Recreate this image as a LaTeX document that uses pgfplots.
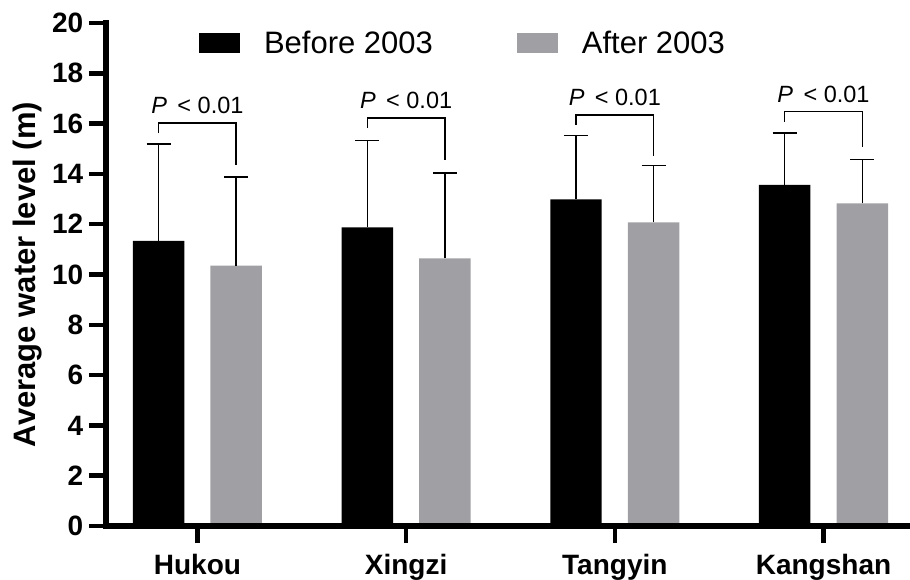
\documentclass[border=0pt]{standalone}
\usepackage{fontspec}
\setmainfont{Liberation Sans}
\usepackage{pgfplots}
\pgfplotsset{compat=1.18}
\definecolor{bargray}{RGB}{160,160,164}
\pgfplotsset{
  every axis/.append style={line width=5bp},
  every outer x axis line/.append style={line width=6bp, line cap=rect},
  every outer y axis line/.append style={line width=6bp, line cap=rect},
  every tick/.append style={line width=4.5bp, black},
  every major tick/.append style={line width=4.5bp, black},
}
\begin{document}
\begin{tikzpicture}
\begin{axis}[
  at={(0,0)}, anchor=south west,
  scale only axis, width=804bp, height=503bp,
  xmin=-0.438, xmax=3.4144, ymin=0, ymax=20,
  axis lines=left,
  axis line style={line width=6bp, line cap=rect, -},
  axis on top, clip=false,
  tick align=outside, major tick length=17bp,
  tick style={black, line width=4.5bp},
  xtick={0,1,2,3}, xticklabels={Hukou,Xingzi,Tangyin,Kangshan},
  ytick={0,2,...,20},
  /pgf/number format/assume math mode=true,
  ticklabel style={font=\bfseries\fontsize{28bp}{30bp}\selectfont},
  xticklabel style={yshift=-5bp},
  ylabel={Average water level (m)},
  ylabel style={font=\bfseries\fontsize{31bp}{33bp}\selectfont, at={(axis description cs:-0.0876,0.5)}, anchor=base},
  legend columns=2,
  legend style={at={(axis description cs:0.1157,0.9604)}, anchor=west, draw=none, fill=none,
    inner sep=0pt, outer sep=0pt, font=\fontsize{31bp}{33bp}\selectfont,
    nodes={inner sep=0pt},
    /tikz/every odd column/.append style={column sep=24bp},
    /tikz/every even column/.append style={column sep=84bp}},
  unbounded coords=jump,
]
\addplot[ybar, bar width=0.2466, bar shift=-0.186, fill=black, draw=none,
  legend image code/.code={\fill[black] (0bp,-10.35bp) rectangle (41bp,10.35bp);}]
  coordinates {(0,11.34) (1,11.87) (2,12.99) (3,13.56)};
\addlegendentry{Before 2003}
\addplot[ybar, bar width=0.2466, bar shift=0.186, fill=bargray, draw=none,
  legend image code/.code={\fill[bargray] (0bp,-10.35bp) rectangle (41bp,10.35bp);}]
  coordinates {(0,10.35) (1,10.64) (2,12.07) (3,12.83)};
\addlegendentry{After 2003}
% upper error bars: stem from bar top to mean+SD, then cap
\addplot[black, line width=1.5bp, mark=none, forget plot]
  coordinates {(-0.186,11.34) (-0.186,15.18) (nan,nan) (-0.2435,15.18) (-0.1285,15.18) (nan,nan)
               (0.814,11.87) (0.814,15.32) (nan,nan) (0.7565,15.32) (0.8715,15.32) (nan,nan)
               (1.814,12.99) (1.814,15.52) (nan,nan) (1.7565,15.52) (1.8715,15.52) (nan,nan)
               (2.814,13.56) (2.814,15.63) (nan,nan) (2.7565,15.63) (2.8715,15.63)};
\addplot[black, line width=1.5bp, mark=none, forget plot]
  coordinates {(0.186,10.35) (0.186,13.87) (nan,nan) (0.1285,13.87) (0.2435,13.87) (nan,nan)
               (1.186,10.64) (1.186,14.04) (nan,nan) (1.1285,14.04) (1.2435,14.04) (nan,nan)
               (2.186,12.07) (2.186,14.34) (nan,nan) (2.1285,14.34) (2.2435,14.34) (nan,nan)
               (3.186,12.83) (3.186,14.58) (nan,nan) (3.1285,14.58) (3.2435,14.58)};
% significance brackets
\addplot[black, line width=1.5bp, line join=miter, mark=none, forget plot]
  coordinates {(-0.186,15.61) (-0.186,16.03) (0.186,16.03) (0.186,14.36)};
\addplot[black, line width=1.5bp, line join=miter, mark=none, forget plot]
  coordinates {(0.814,15.83) (0.814,16.23) (1.186,16.23) (1.186,14.56)};
\addplot[black, line width=1.5bp, line join=miter, mark=none, forget plot]
  coordinates {(1.814,15.95) (1.814,16.35) (2.186,16.35) (2.186,14.70)};
\addplot[black, line width=1.5bp, line join=miter, mark=none, forget plot]
  coordinates {(2.814,16.07) (2.814,16.48) (3.186,16.48) (3.186,15.08)};
% heavy y axis line and its ticks, as filled strips
\addplot[fill=black, draw=none, forget plot] coordinates {(-0.4524,-0.119) (-0.4236,-0.119) (-0.4236,20.119) (-0.4524,20.119)} -- cycle;
\addplot[fill=black, draw=none, forget plot] coordinates {(-0.5195,-0.0895) (-0.438,-0.0895) (-0.438,0.0895) (-0.5195,0.0895)} -- cycle;
\addplot[fill=black, draw=none, forget plot] coordinates {(-0.5195,1.9105) (-0.438,1.9105) (-0.438,2.0895) (-0.5195,2.0895)} -- cycle;
\addplot[fill=black, draw=none, forget plot] coordinates {(-0.5195,3.9105) (-0.438,3.9105) (-0.438,4.0895) (-0.5195,4.0895)} -- cycle;
\addplot[fill=black, draw=none, forget plot] coordinates {(-0.5195,5.9105) (-0.438,5.9105) (-0.438,6.0895) (-0.5195,6.0895)} -- cycle;
\addplot[fill=black, draw=none, forget plot] coordinates {(-0.5195,7.9105) (-0.438,7.9105) (-0.438,8.0895) (-0.5195,8.0895)} -- cycle;
\addplot[fill=black, draw=none, forget plot] coordinates {(-0.5195,9.9105) (-0.438,9.9105) (-0.438,10.0895) (-0.5195,10.0895)} -- cycle;
\addplot[fill=black, draw=none, forget plot] coordinates {(-0.5195,11.9105) (-0.438,11.9105) (-0.438,12.0895) (-0.5195,12.0895)} -- cycle;
\addplot[fill=black, draw=none, forget plot] coordinates {(-0.5195,13.9105) (-0.438,13.9105) (-0.438,14.0895) (-0.5195,14.0895)} -- cycle;
\addplot[fill=black, draw=none, forget plot] coordinates {(-0.5195,15.9105) (-0.438,15.9105) (-0.438,16.0895) (-0.5195,16.0895)} -- cycle;
\addplot[fill=black, draw=none, forget plot] coordinates {(-0.5195,17.9105) (-0.438,17.9105) (-0.438,18.0895) (-0.5195,18.0895)} -- cycle;
\addplot[fill=black, draw=none, forget plot] coordinates {(-0.5195,19.9105) (-0.438,19.9105) (-0.438,20.0895) (-0.5195,20.0895)} -- cycle;
\node[anchor=base, inner sep=0pt, font=\fontsize{23.5bp}{25bp}\selectfont] at (axis cs:0,16.39) {\textit{P}\, < 0.01};
\node[anchor=base, inner sep=0pt, font=\fontsize{23.5bp}{25bp}\selectfont] at (axis cs:1,16.60) {\textit{P}\, < 0.01};
\node[anchor=base, inner sep=0pt, font=\fontsize{23.5bp}{25bp}\selectfont] at (axis cs:2,16.72) {\textit{P}\, < 0.01};
\node[anchor=base, inner sep=0pt, font=\fontsize{23.5bp}{25bp}\selectfont] at (axis cs:3,16.85) {\textit{P}\, < 0.01};
\end{axis}
\pgfresetboundingbox
\path[use as bounding box] (-106bp,-54bp) rectangle (804bp,526bp);
\end{tikzpicture}
\end{document}
